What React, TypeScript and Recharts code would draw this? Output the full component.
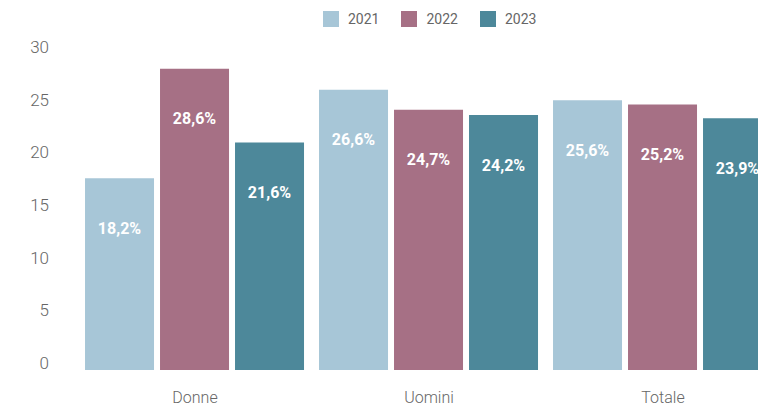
import { BarChart, Bar, XAxis, YAxis, LabelList } from "recharts";

// ─── Tasso per genere, 2021–2023 ─────────────────────────────────────────────

const CATEGORIES = ["Donne", "Uomini", "Totale"];
const Y2021 = [18.2, 26.6, 25.6];
const Y2022 = [28.6, 24.7, 25.2];
const Y2023 = [21.6, 24.2, 23.9];
const Y_TICKS = [0, 5, 10, 15, 20, 25, 30];

const SERIES = [
  { key: "y2021", name: "2021", color: "#a7c6d7" },
  { key: "y2022", name: "2022", color: "#a67085" },
  { key: "y2023", name: "2023", color: "#4d889a" },
];

const data = CATEGORIES.map((c, i) => ({
  name: c, y2021: Y2021[i], y2022: Y2022[i], y2023: Y2023[i],
}));

const FONT = "Roboto, 'Noto Sans', sans-serif";
const fmt = (v: number) => v.toFixed(1).replace(".", ",") + "%";

function BarLabel(props: any) {
  const { x, y, width, value } = props;
  return (
    <text
      x={Number(x) + Number(width) / 2} y={Number(y) + 50}
      textAnchor="middle" dominantBaseline="central"
      fill="#fff" fontSize={16} fontWeight={700} fontFamily={FONT}
    >
      {fmt(value)}
    </text>
  );
}

function LegendBox() {
  return (
    <div style={{ display: "flex", alignItems: "center", fontFamily: FONT, fontSize: 14, color: "#666" }}>
      {SERIES.map((s) => (
        <div key={s.key} style={{ display: "flex", alignItems: "center", marginRight: 22 }}>
          <span style={{ width: 16, height: 16, background: s.color, marginRight: 9, display: "inline-block" }} />
          <span>{s.name}</span>
        </div>
      ))}
    </div>
  );
}

export default function App() {
  return (
    <div style={{ width: 758, height: 401, overflow: "hidden", position: "relative" }}>
      <div style={{ position: "absolute", left: 315, top: 3 }}>
        <LegendBox />
      </div>
      <BarChart
        width={772} height={401} data={data}
        margin={{ top: 46, right: 0, bottom: 9, left: 0 }}
        barCategoryGap="3%" barGap={6}
      >
        <XAxis
          dataKey="name" axisLine={false} tickLine={false} height={30} tickMargin={16}
          tick={{ fill: "#666", fontSize: 16, fontFamily: FONT, fontWeight: 300 }}
        />
        <YAxis
          domain={[0, 30]} ticks={Y_TICKS} axisLine={false} tickLine={false} width={70} tickMargin={23}
          tick={{ fill: "#666", fontSize: 17, fontFamily: FONT, fontWeight: 300, dy: -7 }}
        />
        {SERIES.map((s) => (
          <Bar key={s.key} dataKey={s.key} name={s.name} fill={s.color} isAnimationActive={false}>
            <LabelList dataKey={s.key} content={BarLabel} />
          </Bar>
        ))}
      </BarChart>
    </div>
  );
}
